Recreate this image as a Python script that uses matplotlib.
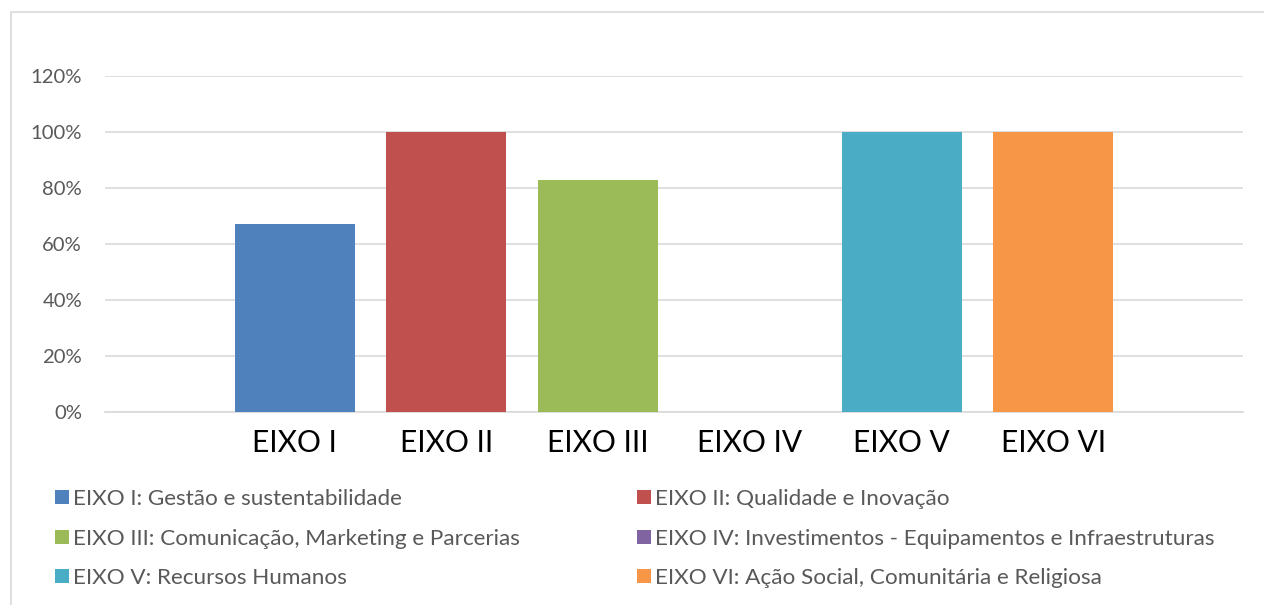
import matplotlib
matplotlib.use("Agg")
import matplotlib.pyplot as plt
from matplotlib.patches import Rectangle, Patch
from matplotlib.ticker import PercentFormatter

categories = ["EIXO I", "EIXO II", "EIXO III", "EIXO IV", "EIXO V", "EIXO VI"]
values = [0.67, 1.00, 0.83, 0.00, 1.00, 1.00]
legend_labels = [
    "EIXO I: Gestão e sustentabilidade",
    "EIXO II: Qualidade e Inovação",
    "EIXO III: Comunicação, Marketing e Parcerias",
    "EIXO IV: Investimentos - Equipamentos e Infraestruturas",
    "EIXO V: Recursos Humanos",
    "EIXO VI: Ação Social, Comunitária e Religiosa",
]
colors = ["#4F81BD", "#C0504D", "#9BBB59", "#8064A2", "#4BACC6", "#F79646"]
yticks = [0, 0.2, 0.4, 0.6, 0.8, 1.0, 1.2]

plt.rcParams['font.family'] = ['Lato', 'DejaVu Sans']

W, H = 1264, 605
fig = plt.figure(figsize=(W / 100, H / 100), dpi=100)
fig.patch.set_facecolor("white")

# outer chart border (partially cropped like the reference)
fig.patches.append(Rectangle((11 / W, -0.1), 1.2, 1 - 12 / H + 0.1,
                             transform=fig.transFigure, fill=False,
                             edgecolor="#D9D9D9", linewidth=1.2))

ax = fig.add_axes([105 / W, 1 - 412 / H, (1243 - 105) / W, (412 - 76) / H])
x = list(range(len(categories)))
bars = ax.bar(x, values, width=0.79, color=colors, zorder=3)

ax.set_xlim(-1.25, 6.25)
ax.set_ylim(0, 1.2)
ax.set_yticks(yticks)
ax.yaxis.set_major_formatter(PercentFormatter(1.0, decimals=0))
ax.set_xticks(x)
ax.set_xticklabels(categories, fontsize=21.5, color="black")
ax.tick_params(axis="x", length=0, pad=12)
ax.tick_params(axis="y", length=0, pad=16.5, labelsize=14.6, labelcolor="#595959")
ax.grid(axis="y", color="#D9D9D9", linewidth=1.2, zorder=0)
for s in ["top", "right", "left"]:
    ax.spines[s].set_visible(False)
ax.spines["bottom"].set_color("#D9D9D9")
ax.spines["bottom"].set_linewidth(1.2)
ax.set_facecolor("none")

handles = [Patch(facecolor=c, edgecolor="none") for c in colors]
common = dict(frameon=False, fontsize=16.2, labelcolor="#595959",
              handlelength=0.6, handleheight=0.6, handletextpad=0.18,
              labelspacing=0.87, borderpad=0, borderaxespad=0, loc="upper left")
leg1 = fig.legend([handles[i] for i in (0, 2, 4)], [legend_labels[i] for i in (0, 2, 4)],
                  bbox_to_anchor=(55 / W, 1 - 489 / H), **common)
leg2 = fig.legend([handles[i] for i in (1, 3, 5)], [legend_labels[i] for i in (1, 3, 5)],
                  bbox_to_anchor=(637 / W, 1 - 489 / H), **common)

fig.savefig("out.png", dpi=100, facecolor="white")
